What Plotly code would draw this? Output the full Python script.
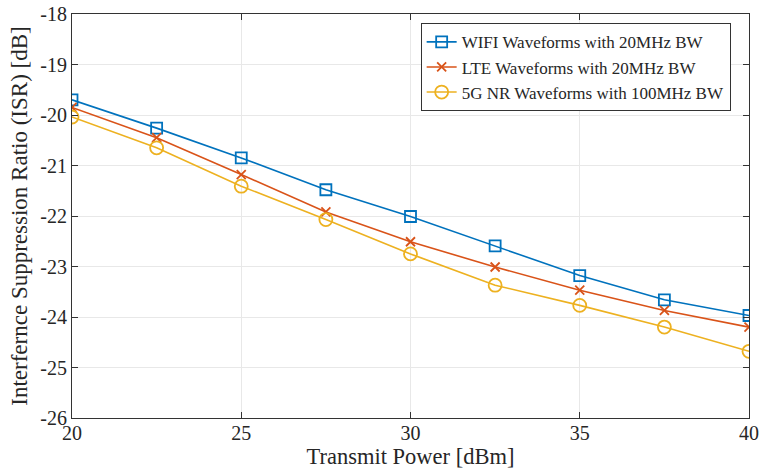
import plotly.graph_objects as go

tx_power = [20, 22.5, 25, 27.5, 30, 32.5, 35, 37.5, 40]
wifi_isr = [-19.70, -20.26, -20.85, -21.48, -22.01, -22.59, -23.18, -23.66, -23.97]
lte_isr = [-19.85, -20.45, -21.18, -21.92, -22.51, -23.01, -23.47, -23.87, -24.20]
nr_isr = [-20.04, -20.65, -21.41, -22.07, -22.75, -23.37, -23.77, -24.20, -24.68]

x_ticks = [20, 25, 30, 35, 40]
x_tick_labels = ["20", "25", "30", "35", "40"]
y_ticks = [-26, -25, -24, -23, -22, -21, -20, -19, -18]
y_tick_labels = ["-26", "-25", "-24", "-23", "-22", "-21", "-20", "-19", "-18"]

names = ["WIFI Waveforms with 20MHz BW",
         "LTE Waveforms with 20MHz BW",
         "5G NR Waveforms with 100MHz BW"]
colors = ["#0072BD", "#D95319", "#EDB120"]
symbols = ["square-open", "x-thin-open", "circle-open"]
sizes = [11, 9, 13]

fig = go.Figure()
for y, n, c, s, sz in zip([wifi_isr, lte_isr, nr_isr], names, colors, symbols, sizes):
    fig.add_trace(go.Scatter(
        x=tx_power, y=y, name=n, mode="lines+markers",
        line=dict(color=c, width=1.6),
        marker=dict(symbol=s, size=sz, color=c, line=dict(color=c, width=1.8)),
    ))

font_family = "Liberation Serif"
axis_common = dict(
    showgrid=True, gridcolor="#e8e8e8", gridwidth=1,
    showline=True, linecolor="#333333", linewidth=1.2, mirror="ticks",
    ticks="inside", ticklen=6, tickcolor="#333333",
    zeroline=False, automargin=False,
    tickfont=dict(family=font_family, size=20, color="#262626"),
)
fig.update_xaxes(range=[20, 40], tickvals=x_ticks, ticktext=x_tick_labels,
                 ticklabelstandoff=-3,
                 title=dict(text="Transmit Power [dBm]",
                            font=dict(family=font_family, size=22.5, color="#262626"), standoff=5),
                 **axis_common)
fig.update_yaxes(range=[-26, -18], tickvals=y_ticks, ticktext=y_tick_labels,
                 title=dict(text="Interfernce Suppression Ratio (ISR) [dB]",
                            font=dict(family=font_family, size=23, color="#262626"), standoff=6),
                 **axis_common)

fig.update_layout(
    width=760, height=469,
    margin=dict(l=72, r=11, t=14, b=51),
    plot_bgcolor="white", paper_bgcolor="white",
    showlegend=True,
    legend=dict(x=0.515, y=0.977, xanchor="left", yanchor="top",
                bgcolor="white", bordercolor="#333333", borderwidth=1,
                font=dict(family=font_family, size=17, color="#262626"),
                tracegroupgap=0, itemwidth=30),
)
fig.write_html("out.html", config={"displayModeBar": False},
               post_script="document.body.style.margin='0';document.body.style.overflow='hidden';")
